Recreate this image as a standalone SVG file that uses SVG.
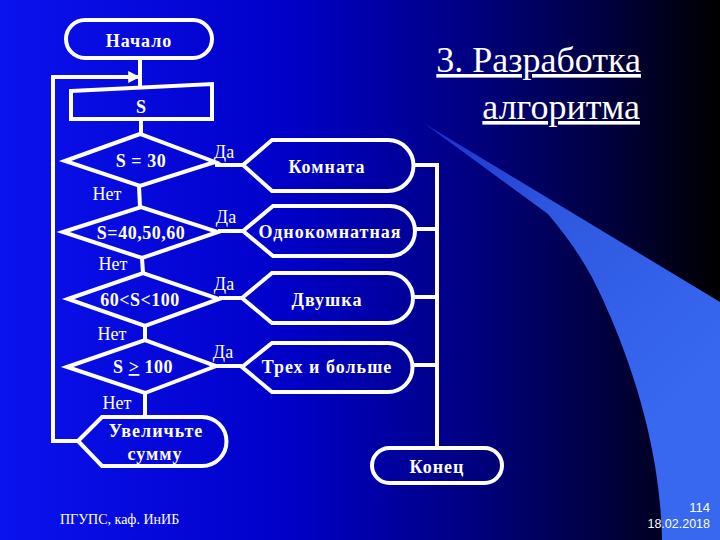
<svg xmlns="http://www.w3.org/2000/svg" width="720" height="540" viewBox="0 0 720 540">
  <defs>
    <linearGradient id="bg" x1="0" y1="0" x2="1" y2="0">
      <stop offset="0" stop-color="#0a12ee"/>
      <stop offset="0.4" stop-color="#0000c8"/>
      <stop offset="0.65" stop-color="#000082"/>
      <stop offset="0.85" stop-color="#00003c"/>
      <stop offset="1" stop-color="#000000"/>
    </linearGradient>
    <linearGradient id="beam" gradientUnits="userSpaceOnUse" x1="425" y1="124" x2="680" y2="400">
      <stop offset="0" stop-color="#1a2ec8"/>
      <stop offset="0.4" stop-color="#2e58e0"/>
      <stop offset="1" stop-color="#3868f0"/>
    </linearGradient>
    <marker id="arr" viewBox="0 0 10 10" refX="9" refY="5" markerWidth="3" markerHeight="3" orient="auto" markerUnits="strokeWidth">
      <path d="M0,0 L10,5 L0,10 Z" fill="#ffffe0"/>
    </marker>
  </defs>

  <rect x="0" y="0" width="720" height="540" fill="url(#bg)"/>
  <path d="M425,124 L720,302 L720,540 L662,540 C661,480 648,400 604,302 C588,266 570,240 548,214 Z" fill="url(#beam)"/>

  <g id="title" font-family="'Liberation Serif', serif" font-size="36" fill="#fff" text-anchor="end" text-decoration="underline">
    <text x="641" y="72">3. Разработка</text>
    <text x="640" y="119">алгоритма</text>
  </g>

  <g id="connectors">
    <g fill="none" stroke="#fff" stroke-width="4">
      <line x1="140" y1="58" x2="140" y2="87"/>
      <line x1="141" y1="119" x2="141" y2="134"/>
      <line x1="139" y1="186" x2="140" y2="207"/>
      <line x1="142" y1="258" x2="143" y2="273"/>
      <line x1="145" y1="326" x2="145" y2="340"/>
      <line x1="145" y1="393" x2="145" y2="417"/>
      <line x1="215" y1="165" x2="243" y2="165"/>
      <line x1="218" y1="231" x2="243" y2="231"/>
      <line x1="219" y1="298" x2="242" y2="298"/>
      <line x1="216" y1="366" x2="242" y2="366"/>
      <line x1="413" y1="165" x2="437" y2="165"/>
      <line x1="415" y1="229" x2="437" y2="229"/>
      <line x1="413" y1="297" x2="437" y2="297"/>
      <line x1="413" y1="365" x2="437" y2="365"/>
      <line x1="437" y1="163" x2="437" y2="448"/>
      <polyline points="78,441 53,441 53,77 139,77" marker-end="url(#arr)"/>
    </g>
    <g font-family="'Liberation Serif', serif" font-size="18" fill="#fff" text-anchor="middle">
      <text x="224" y="158">Да</text>
      <text x="226" y="223">Да</text>
      <text x="224" y="290">Да</text>
      <text x="223" y="358">Да</text>
      <text x="107" y="200">Нет</text>
      <text x="113" y="270">Нет</text>
      <text x="112" y="340">Нет</text>
      <text x="117" y="409">Нет</text>
    </g>
  </g>

  <g id="nodes" font-family="'Liberation Serif', serif" font-weight="bold" text-anchor="middle">
    <g id="start">
      <rect x="66" y="20" width="146" height="38" rx="19" fill="none" stroke="#fff" stroke-width="4"/>
      <text x="139" y="47" font-size="18" letter-spacing="1" fill="#fff">Начало</text>
    </g>
    <g id="input">
      <polygon points="71,91 212,84 212,119 71,119" fill="none" stroke="#fff" stroke-width="4"/>
      <text x="141" y="113" font-size="18" fill="#fff">S</text>
    </g>
    <g id="cond1">
      <polygon points="65,161 140,134 215,162 140,186" fill="none" stroke="#fff" stroke-width="4"/>
      <text x="141" y="167" font-size="18" letter-spacing="0.5" fill="#fff">S = 30</text>
    </g>
    <g id="cond2">
      <polygon points="63,232 141,207 218,232 142,258" fill="none" stroke="#fff" stroke-width="4"/>
      <text x="141" y="239" font-size="18" letter-spacing="0.5" fill="#fff">S=40,50,60</text>
    </g>
    <g id="cond3">
      <polygon points="68,299 143,273 219,299 145,326" fill="none" stroke="#fff" stroke-width="4"/>
      <text x="140" y="306" font-size="18" letter-spacing="0.5" fill="#fff">60&lt;S&lt;100</text>
    </g>
    <g id="cond4">
      <polygon points="67,367 145,340 216,366 145,393" fill="none" stroke="#fff" stroke-width="4"/>
      <text x="143" y="373" font-size="18" letter-spacing="0.5" fill="#fff">S <tspan text-decoration="underline">&gt;</tspan> 100</text>
    </g>
    <g id="room">
      <path d="M243,165 L272,140 L388,140 A25.5,25.5 0 0 1 388,191 L272,191 Z" fill="none" stroke="#fff" stroke-width="4"/>
      <text x="327" y="173" font-size="18" letter-spacing="1" fill="#fff">Комната</text>
    </g>
    <g id="one">
      <path d="M243,231 L273,206 L390,206 A25,25 0 0 1 390,256 L273,256 Z" fill="none" stroke="#fff" stroke-width="4"/>
      <text x="330" y="238" font-size="18" letter-spacing="1" fill="#fff">Однокомнатная</text>
    </g>
    <g id="two">
      <path d="M242,298 L272,273 L388,273 A25,25 0 0 1 388,323 L272,323 Z" fill="none" stroke="#fff" stroke-width="4"/>
      <text x="327" y="306" font-size="18" letter-spacing="1" fill="#fff">Двушка</text>
    </g>
    <g id="three">
      <path d="M242,367 L272,343 L388,343 A24.5,24.5 0 0 1 388,392 L272,392 Z" fill="none" stroke="#fff" stroke-width="4"/>
      <text x="327" y="373" font-size="18" letter-spacing="1" fill="#fff">Трех и больше</text>
    </g>
    <g id="increase">
      <path d="M78,441 L102,417 L202,417 A24.5,24.5 0 0 1 202,466 L102,466 Z" fill="none" stroke="#fff" stroke-width="4"/>
      <text x="156" y="437" font-size="18" letter-spacing="1" fill="#fff">Увеличьте</text>
      <text x="155" y="460" font-size="18" letter-spacing="1" fill="#fff">сумму</text>
    </g>
    <g id="end">
      <rect x="372" y="448" width="130" height="35" rx="17.5" fill="none" stroke="#fff" stroke-width="4"/>
      <text x="437" y="473" font-size="18" letter-spacing="1" fill="#fff">Конец</text>
    </g>
  </g>

  <g id="footer" fill="#fff">
    <text x="60" y="524" font-family="'Liberation Serif', serif" font-size="14">ПГУПС, каф. ИнИБ</text>
    <text x="710" y="512" font-family="'Liberation Sans', sans-serif" font-size="13" text-anchor="end">114</text>
    <text x="710" y="528" font-family="'Liberation Sans', sans-serif" font-size="12.5" text-anchor="end">18.02.2018</text>
  </g>
</svg>
